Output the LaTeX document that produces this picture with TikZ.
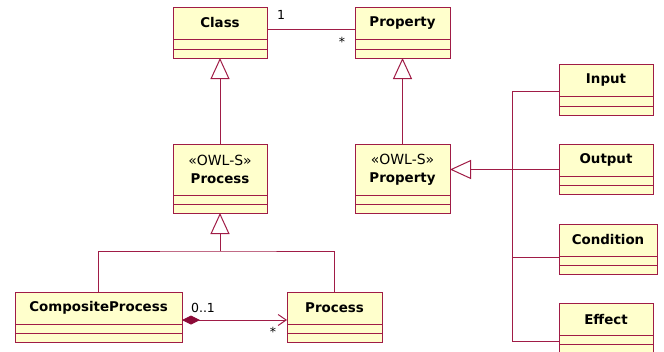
\documentclass[tikz,border=0pt]{standalone}
\usepackage{fontspec}
\setmainfont{DejaVu Sans}
\usetikzlibrary{arrows.meta}
\definecolor{umlred}{RGB}{160,28,70}
\definecolor{umldark}{RGB}{140,10,55}
\definecolor{umlfill}{RGB}{255,255,204}
\newcommand\umlbox[7]{% name, xleft, top, width, header h, comp1 h, text
  \node[hdr, minimum width=#4pt, minimum height=#5pt, anchor=north west] (#1) at (#2,#3) {#7};
  \node[cmp, minimum width=#4pt, minimum height=#6pt] (#1a) at (#1.south) {};
  \node[cmp, minimum width=#4pt, minimum height=9pt] (#1b) at (#1a.south) {};
}
\begin{document}
\begin{tikzpicture}[x=1pt,y=-1pt,
  hdr/.style={draw=umlred, fill=umlfill, line width=1pt, inner sep=0pt, outer sep=0pt,
    align=center, font=\fontsize{13.4}{16}\selectfont\bfseries},
  cmp/.style={draw=umlred, fill=umlfill, line width=1pt, inner sep=0pt, outer sep=0pt, anchor=north},
  conn/.style={draw=umlred, line width=1pt},
  gen/.style={conn, -{Triangle[open, length=21pt, width=19pt, fill=white]}},
  mult/.style={font=\fontsize{12.5}{14}\selectfont, inner sep=0pt}]
\clip (0,0) rectangle (664,351);
\fill[white] (0,0) rectangle (664,351);
\umlbox{class}{173}{7}{94}{32}{10}{Class}
\umlbox{prop}{355}{7}{95}{32}{10}{Property}
\umlbox{oproc}{173}{144}{94}{51}{9}{{\mdseries\fontsize{14}{16}\selectfont«OWL-S»}\\[2pt]Process}
\umlbox{oprop}{355}{144}{95}{51}{9}{{\mdseries\fontsize{14}{16}\selectfont«OWL-S»}\\[2pt]Property}
\umlbox{comp}{15}{292}{167}{32}{9}{CompositeProcess}
\umlbox{proc}{287}{292}{95}{32}{9}{Process}
\umlbox{inp}{559}{64}{94}{32}{10}{Input}
\umlbox{outp}{559}{144}{94}{32}{9}{Output}
\umlbox{cond}{559}{224}{98}{32}{9}{Condition}
\umlbox{eff}{559}{303}{94}{32}{9}{Effect}
% association Class - Property
\draw[conn] ([yshift=-6pt]class.east) -- ([yshift=-6pt]prop.west);
\node[mult] (m1) at (281,15) {1};
\node[mult] (m2) at (342,42) {*};
% generalizations
\draw[gen] (oproc.north) -- (classb.south);
\draw[gen] (oprop.north) -- (propb.south);
\coordinate (j) at (oproc.south |- 0,251);
\draw[conn] (comp.north) |- (j) -| (proc.north);
\draw[gen] (j) -- (oprocb.south);
% composition
\draw[conn, {Diamond[fill=umldark, color=umldark, length=18pt, width=9pt]}-{Straight Barb[length=8pt, width=11pt]}]
  ([yshift=-12pt]comp.east) -- ([yshift=-12pt]proc.west);
\node[mult] (m3) at (203,308) {0..1};
\node[mult] (m4) at (273,332) {*};
% property subtypes
\coordinate (bt) at (512,91);
\coordinate (bb) at (512,341);
\draw[conn] (inp.west |- bt) -- (bt) -- (bb) -- (eff.west |- bb);
\draw[conn] (cond.west |- 0,257) -- (bt |- 0,257);
\draw[gen] (outp.west |- oprop.east) -- (oprop.east);
\end{tikzpicture}
\end{document}
